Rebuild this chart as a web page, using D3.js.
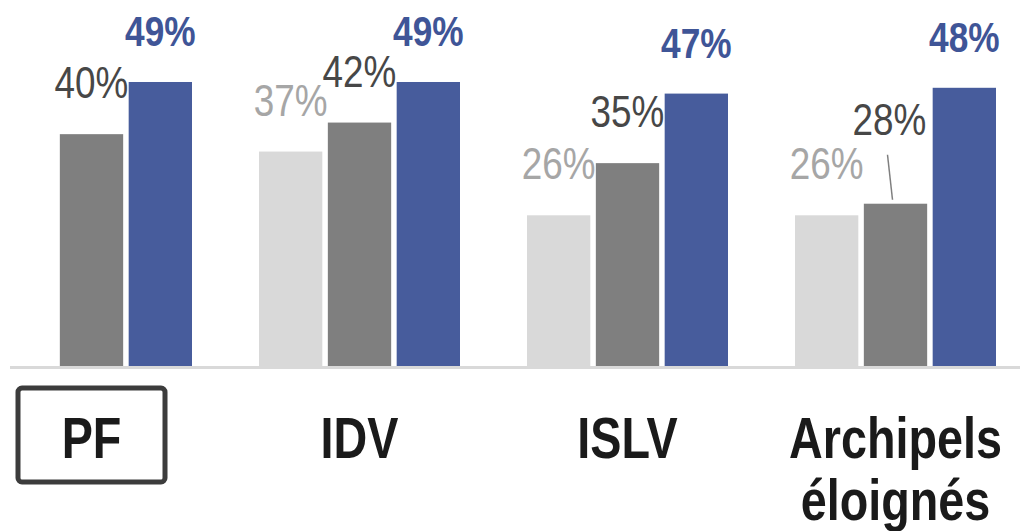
<!DOCTYPE html>
<html>
<head>
<meta charset="utf-8">
<script src="https://cdn.jsdelivr.net/npm/d3@7"></script>
<style>
  html, body { margin: 0; padding: 0; background: #ffffff; }
  svg { display: block; }
  text { font-family: "Liberation Sans", Arial, sans-serif; }
</style>
</head>
<body>
<svg id="chart" width="1020" height="531"></svg>
<script>
// ---- data ----
const categories = ["PF", "IDV", "ISLV", "Archipels\néloignés"];
const seriesNames = ["serie1", "serie2", "serie3"];
const serie1 = [null, 37, 26, 26];   // light grey
const serie2 = [40, 42, 35, 28];     // dark grey
const serie3 = [49, 49, 47, 48];     // blue
const seriesValues = [serie1, serie2, serie3];
const highlighted = "PF";

// ---- styles ----
const barColors = ["#d9d9d9", "#7f7f7f", "#475c9c"];
const labelColors = ["#a6a6a6", "#474747", "#3f5597"];
const labelWeights = ["normal", "normal", "bold"];
const labelSizes = [45, 45, 43];
const squeeze = 0.82;

const svg = d3.select("#chart");
const W = 1020, H = 531;
const baseY = 366;

const x0 = d3.scaleBand()
  .domain(categories)
  .range([-42.5, 1029.5])
  .paddingInner(0.25)
  .paddingOuter(0.125);

const x1 = d3.scaleBand()
  .domain(seriesNames)
  .range([0, x0.bandwidth()])
  .paddingInner(0.08)
  .paddingOuter(0);

const y = d3.scaleLinear().domain([0, 50]).range([baseY, baseY - 289.8]);

// baseline
svg.append("line")
  .attr("x1", 10).attr("x2", W)
  .attr("y1", baseY + 1.5).attr("y2", baseY + 1.5)
  .attr("stroke", "#d9d9d9").attr("stroke-width", 3);

// flatten data
const bars = [];
categories.forEach((c, ci) => {
  seriesNames.forEach((s, si) => {
    const v = seriesValues[si][ci];
    if (v !== null && v !== undefined) bars.push({ c, ci, s, si, v });
  });
});

const g = svg.append("g");

g.selectAll("rect.bar")
  .data(bars)
  .join("rect")
  .attr("class", "bar")
  .attr("x", d => x0(d.c) + x1(d.s))
  .attr("width", x1.bandwidth())
  .attr("y", d => y(d.v))
  .attr("height", d => baseY - y(d.v))
  .attr("fill", d => barColors[d.si]);

// value labels
function labelPos(d) {
  const cx = x0(d.c) + x1(d.s) + x1.bandwidth() / 2;
  let by = y(d.v) - 36;
  let dx = 0;
  // the 28% label sits higher with a leader line
  if (d.ci === 3 && d.si === 1) { by = y(d.v) - 69; dx = -6; }
  return { x: cx + dx, y: by };
}

g.selectAll("text.val")
  .data(bars)
  .join("text")
  .attr("class", "val")
  .attr("transform", d => { const p = labelPos(d); return `translate(${p.x},${p.y}) scale(${squeeze},1)`; })
  .attr("text-anchor", "middle")
  .attr("font-size", d => labelSizes[d.si])
  .attr("font-weight", d => labelWeights[d.si])
  .attr("fill", d => labelColors[d.si])
  .text(d => d.v + "%");

// leader line for the displaced label
bars.filter(d => d.ci === 3 && d.si === 1).forEach(d => {
  const p = labelPos(d);
  svg.append("line")
    .attr("x1", p.x - 2).attr("y1", p.y + 20)
    .attr("x2", p.x + 3).attr("y2", y(d.v) - 4)
    .attr("stroke", "#7f7f7f").attr("stroke-width", 1.5);
});

// category labels
const catG = svg.append("g");
categories.forEach((c, ci) => {
  const cx = x0(c) + x0.bandwidth() / 2;
  const lines = c.split("\n");
  const t = catG.append("text")
    .attr("transform", `translate(${cx},458) scale(${squeeze},1)`)
    .attr("text-anchor", "middle")
    .attr("font-size", 57)
    .attr("font-weight", "bold")
    .attr("fill", "#1a1a1a");
  lines.forEach((ln, li) => {
    t.append("tspan").attr("x", 0).attr("y", li * 62).text(ln);
  });
  if (c === highlighted) {
    catG.append("rect")
      .attr("x", cx - 73.5).attr("y", 388)
      .attr("width", 147).attr("height", 94)
      .attr("rx", 4).attr("ry", 4)
      .attr("fill", "none")
      .attr("stroke", "#3c3c3c")
      .attr("stroke-width", 5);
  }
});
</script>
</body>
</html>
